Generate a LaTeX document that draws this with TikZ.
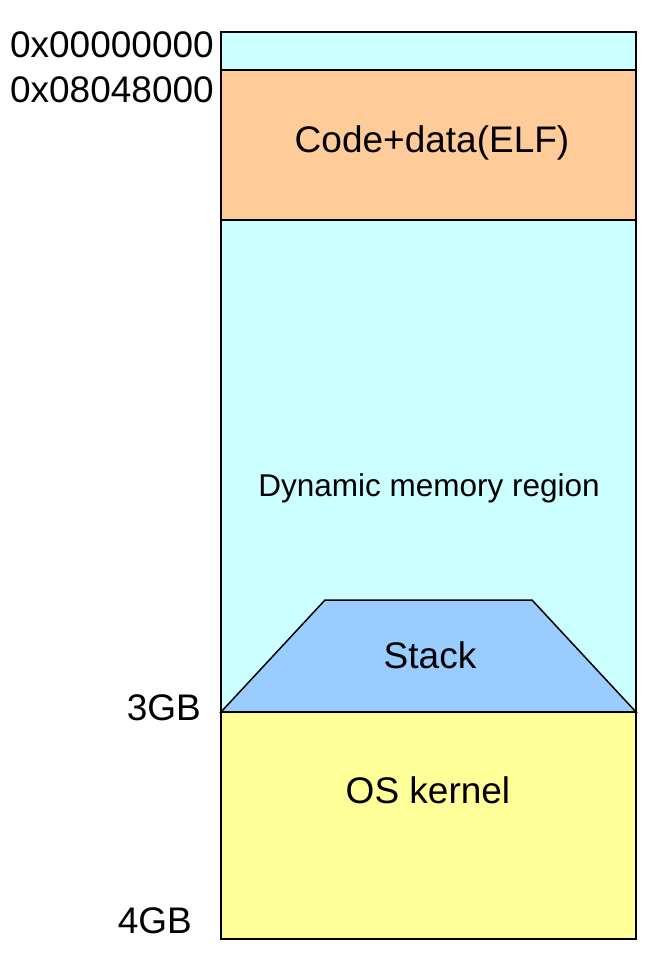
\documentclass[tikz,border=0pt]{standalone}
\usepackage{fontspec}
\setmainfont{Liberation Sans}
\definecolor{cyanfill}{HTML}{CCFFFF}
\definecolor{orangefill}{HTML}{FFCC99}
\definecolor{stackfill}{HTML}{99CCFF}
\definecolor{yellowfill}{HTML}{FFFF99}
\begin{document}
\begin{tikzpicture}[x=1pt,y=-1pt,
  edge/.style={draw=black, line width=1.5pt, line join=miter},
  big/.style={font=\fontsize{37}{40}\selectfont, inner sep=0pt},
  mid/.style={font=\fontsize{31.5}{34}\selectfont, inner sep=0pt}]
\useasboundingbox (0,0) rectangle (656,954);
% regions
\fill[cyanfill] (221,32) rectangle (636,70);
\fill[orangefill] (221,70) rectangle (636,220);
\fill[cyanfill] (221,220) rectangle (636,712);
\fill[yellowfill] (221,712) rectangle (636,939);
\path[edge, fill=stackfill] (221,712) -- (325,600) -- (532,600) -- (636,712) -- cycle;
% outlines
\draw[edge] (221,70) -- (636,70);
\draw[edge] (221,220) -- (636,220);
\draw[edge] (221,712) -- (636,712);
\draw[edge] (221,32) rectangle (636,939);
% region labels
\node[big] (code) at (432,143) {Code+data(ELF)};
\node[mid] (dyn) at (429,488) {Dynamic memory region};
\node[big] (stack) at (430,655) {Stack};
\node[big] (kernel) at (428,790) {OS kernel};
% address labels
\node[big, anchor=east] (a0) at (214,45) {0x00000000};
\node[big, anchor=east] (a1) at (214,90) {0x08048000};
\node[big, anchor=east] (g3) at (201,708) {3GB};
\node[big, anchor=east] (g4) at (192,921) {4GB};
\end{tikzpicture}
\end{document}
